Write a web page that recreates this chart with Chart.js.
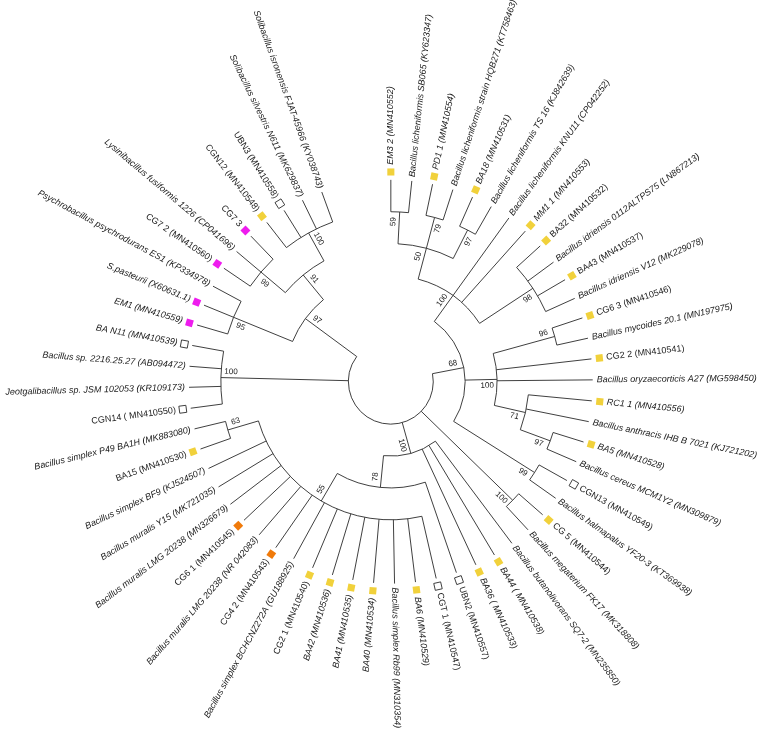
<!DOCTYPE html>
<html>
<head>
<meta charset="utf-8">
<title>16S rRNA tree</title>
<script src="https://cdn.jsdelivr.net/npm/chart.js@4/dist/chart.umd.min.js"></script>
<style>
  html, body { margin: 0; padding: 0; background: #fff; }
  #tree { display: block; }
</style>
</head>
<body>
<canvas id="tree" width="760" height="737"></canvas>
<script>
// Tip labels, in the order they sit round the circle (clockwise, starting at 12 o'clock)
const leafNames = [
    'EM3 2 (MN410552)',
    'Bacillus licheniformis SB065 (KY623347)',
    'PD1 1 (MN410554)',
    'Bacillus licheniformis strain HQB271 (KT758463)',
    'BA18 (MN410531)',
    'Bacillus licheniformis TS 16 (KJ842639)',
    'Bacillus licheniformis KNU11 (CP042252)',
    'MM1 1 (MN410553)',
    'BA32 (MN410532)',
    'Bacillus idriensis 0112ALTPS75 (LN867213)',
    'BA43 (MN410537)',
    'Bacillus idriensis V12 (MK229078)',
    'CG6 3 (MN410546)',
    'Bacillus mycoides 20.1 (MN197975)',
    'CG2 2 (MN410541)',
    'Bacillus oryzaecorticis A27 (MG598450)',
    'RC1 1 (MN410556)',
    'Bacillus anthracis IHB B 7021 (KJ721202)',
    'BA5 (MN410528)',
    'Bacillus cereus MCM1Y2 (MN309879)',
    'CGN13 (MN410549)',
    'Bacillus halmapalus YF20-3 (KT369938)',
    'CG 5 (MN410544)',
    'Bacillus megaterium FK17 (MK318808)',
    'Bacillus butanolivorans SQ7-2 (MN235850)',
    'BA44 ( MN410538)',
    'BA36 ( MN410533)',
    'UBN2 (MN410557)',
    'CGT 1 (MN410547)',
    'BA6 (MN410529)',
    'Bacillus simplex Rb99 (MN310354)',
    'BA40 (MN410534)',
    'BA41 (MN410535)',
    'BA42 (MN410536)',
    'CG2 1 (MN410540)',
    'Bacillus simplex BCHCNZ272A (GU188925)',
    'CG4 2 (MN410543)',
    'Bacillus muralis LMG 20238 (NR 042083)',
    'CG6 1 (MN410545)',
    'Bacillus muralis LMG 20238 (MN326679)',
    'Bacillus muralis Y15 (MK721035)',
    'Bacillus simplex BF9 (KJ524507)',
    'BA15 (MN410530)',
    'Bacillus simplex P49 BA1H (MK883080)',
    'CGN14 ( MN410550)',
    'Jeotgalibacillus sp. JSM 102053 (KR109173)',
    'Bacillus sp. 2216.25.27 (AB094472)',
    'BA N11 (MN410539)',
    'EM1 (MN410559)',
    'S.pasteurii (X60631.1)',
    'Psychrobacillus psychrodurans ES1 (KP334978)',
    'CG7 2 (MN410560)',
    'Lysinibacillus fusiformis 1226 (CP041696)',
    'CG7 3',
    'CGN12 (MN410548)',
    'UBN3 (MN410558)',
    'Solibacillus silvestris N611 (MK629837)',
    'Solibacillus isronensis FJAT-45966 (KY038743)'
];

// Isolate marker per tip: y = yellow, m = magenta, o = orange, w = open square, '' = none
const leafMarkers = [
    'y', '', 'y', '', 'y', '', '', 'y', 'y', '', 'y', '', 'y', '', 'y', '',
    'y', '', 'y', '', 'w', '', 'y', '', '', 'y', 'y', 'w', 'w', 'y', '',
    'y', 'y', 'y', 'y', '', 'o', '', 'o', '', '', '', 'y', '', 'w', '', '',
    'w', 'm', 'm', '', 'm', '', 'm', 'y', 'w', '', ''
];

// Topology: [bootstrap, ...children]; a number is an index into leafNames
const tree = [null,
    [68,
        [100,
            [50, [59, 0, 1], [79, 2, 3], [97, 4, 5]],
            6, 7,
            [98, 8, 9, 10, 11]
        ],
        [100,
            [96, 12, 13],
            14, 15,
            [71, 16, 17, [97, 18, 19]]
        ],
        [99, 20, 21]
    ],
    [100, 22, 23],
    [100,
        24, 25, 26,
        [78,
            27,
            [55, 28, 29, 30, 31, 32, 33, 34, 35, 36, 37, 38, 39, 40, 41, [63, 42, 43]]
        ]
    ],
    [100, 44, 45, 46, 47],
    [97,
        [95, 48, 49, 50],
        [91, [99, 51, 52, 53], [100, 54, 55, 56, 57]]
    ]
];

// Isolate labels that are set upright; every other tip label is italic
const uprightLabels = ['BA32', 'BA43', 'CG6 3', 'CG2 2', 'CGN13', 'CG 5', 'UBN2', 'CGT 1', 'CG2 1',
    'CG4 2', 'CG6 1', 'BA15', 'CGN14', 'CG7 2', 'CG7 3', 'CGN12', 'UBN3'];

const markerColors = { y: '#f1d13b', m: '#ee1cee', o: '#f07a0a', w: '#ffffff' };

// layout: tips spread over 340 degrees, starting straight up, one ring per tree level
const START_ANGLE = -90;
const CIRCLE_SPAN = 340;
const TIP_RADIUS = 6.33;
const MARKER_GAP = 0.25;

function buildNode(n, first) {
    if (typeof n === 'number') {
        const angle = START_ANGLE + n * CIRCLE_SPAN / (leafNames.length - 1);
        return { leaf: n, angle: angle, height: 0 };
    }
    const kids = n.slice(1).map((c, i) => buildNode(c, i === 0));
    return {
        support: n[0],
        kids: kids,
        first: first,
        angle: (kids[0].angle + kids[kids.length - 1].angle) / 2,
        height: Math.max(...kids.map(k => k.height)) + 1
    };
}

const root = buildNode(tree, false);
const rad = d => d * Math.PI / 180;
const radiusOf = node => TIP_RADIUS - node.height;

const leaves = [];
(function collect(node) {
    if (node.leaf !== undefined) leaves[node.leaf] = node;
    else node.kids.forEach(collect);
})(root);

const markerLeaves = leaves.filter(l => leafMarkers[l.leaf]);
const markerPoints = markerLeaves.map(l => ({
    x: (TIP_RADIUS + MARKER_GAP) * Math.cos(rad(l.angle)),
    y: (TIP_RADIUS + MARKER_GAP) * Math.sin(rad(l.angle))
}));

// Branches, arcs and all text are drawn here, positioned through the chart's scales
const treePlugin = {
    id: 'circularTree',
    beforeDatasetsDraw(chart) {
        const ctx = chart.ctx;
        const xs = chart.scales.x, ys = chart.scales.y;
        const cx = xs.getPixelForValue(0), cy = ys.getPixelForValue(0);
        const unit = xs.getPixelForValue(1) - cx;

        ctx.save();
        ctx.strokeStyle = '#2a2a2a';
        ctx.lineWidth = 0.9;

        function drawNode(node) {
            if (node.leaf !== undefined) return;
            const r = radiusOf(node) * unit;
            ctx.beginPath();
            ctx.arc(cx, cy, r, rad(node.kids[0].angle), rad(node.kids[node.kids.length - 1].angle));
            ctx.stroke();
            node.kids.forEach(k => {
                const a = rad(k.angle);
                const r2 = radiusOf(k) * unit;
                ctx.beginPath();
                ctx.moveTo(cx + r * Math.cos(a), cy + r * Math.sin(a));
                ctx.lineTo(cx + r2 * Math.cos(a), cy + r2 * Math.sin(a));
                ctx.stroke();
                drawNode(k);
            });
        }
        drawNode(root);
        ctx.restore();
    },
    afterDatasetsDraw(chart) {
        const ctx = chart.ctx;
        const xs = chart.scales.x, ys = chart.scales.y;
        const cx = xs.getPixelForValue(0), cy = ys.getPixelForValue(0);
        const unit = xs.getPixelForValue(1) - cx;

        function putText(text, x, y, angle, align) {
            const flip = angle > 90 && angle < 270;
            ctx.save();
            ctx.translate(x, y);
            ctx.rotate(rad(flip ? angle - 180 : angle));
            ctx.textAlign = align === 'start' ? (flip ? 'right' : 'left') : 'center';
            ctx.textBaseline = 'middle';
            ctx.fillText(text, 0, 0);
            ctx.restore();
        }

        ctx.save();
        ctx.fillStyle = '#1a1a1a';

        // tip labels
        leaves.forEach(l => {
            const name = leafNames[l.leaf];
            const isolate = name.split(' (')[0];
            const italic = uprightLabels.indexOf(isolate) === -1;
            ctx.font = (italic ? 'italic ' : '') + '9px "Liberation Sans", Arial, sans-serif';
            const r = TIP_RADIUS * unit + (leafMarkers[l.leaf] ? 15 : 4);
            const a = rad(l.angle);
            putText(name, cx + r * Math.cos(a), cy + r * Math.sin(a), (l.angle + 360) % 360, 'start');
        });

        // bootstrap values, just inside each node; first children get theirs on the
        // counter-clockwise side of the branch, the rest on the clockwise side
        ctx.font = '8px "Liberation Sans", Arial, sans-serif';
        (function walk(node) {
            if (node.leaf !== undefined) return;
            if (node.support !== null) {
                const a = rad(node.angle);
                const r = radiusOf(node) * unit - 10;
                const side = node.first ? -6 : 6;
                const x = cx + r * Math.cos(a) - side * Math.sin(a);
                const y = cy + r * Math.sin(a) + side * Math.cos(a);
                putText(String(node.support), x, y, (node.angle + 360) % 360, 'center');
            }
            node.kids.forEach(walk);
        })(root);
        ctx.restore();
    }
};

new Chart(document.getElementById('tree'), {
    type: 'scatter',
    data: {
        datasets: [{
            label: 'isolates',
            data: markerPoints,
            pointStyle: 'rect',
            pointRadius: 5,
            pointHoverRadius: 5,
            pointRotation: markerLeaves.map(l => l.angle),
            pointBackgroundColor: markerLeaves.map(l => markerColors[leafMarkers[l.leaf]]),
            pointBorderColor: markerLeaves.map(l => leafMarkers[l.leaf] === 'w' ? '#2a2a2a' : markerColors[leafMarkers[l.leaf]]),
            pointBorderWidth: markerLeaves.map(l => leafMarkers[l.leaf] === 'w' ? 0.9 : 0)
        }]
    },
    options: {
        responsive: false,
        animation: false,
        devicePixelRatio: 1,
        layout: { padding: 0 },
        scales: {
            x: { type: 'linear', display: false, min: -12.07, max: 11.39 },
            y: { type: 'linear', display: false, reverse: true, min: -11.79, max: 10.96 }
        },
        plugins: {
            legend: { display: false },
            tooltip: { enabled: false }
        },
        events: []
    },
    plugins: [treePlugin]
});
</script>
</body>
</html>
